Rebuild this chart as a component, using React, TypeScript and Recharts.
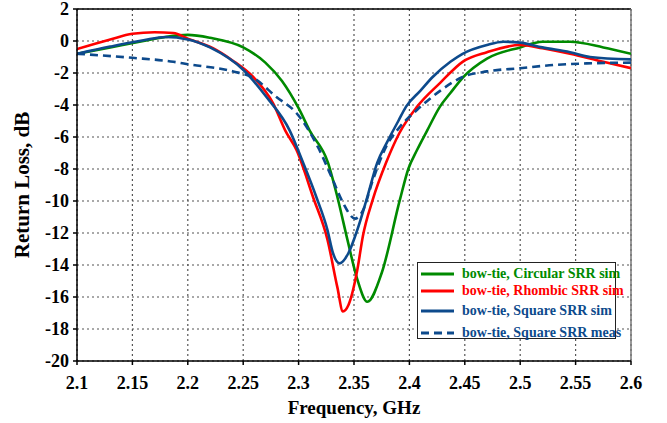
import {
  LineChart,
  Line,
  XAxis,
  YAxis,
  CartesianGrid,
  ReferenceLine,
} from "recharts";

// frequency ticks (GHz) and return loss ticks (dB)
const freqTicks = [2.1, 2.15, 2.2, 2.25, 2.3, 2.35, 2.4, 2.45, 2.5, 2.55, 2.6];
const lossTicks = [2, 0, -2, -4, -6, -8, -10, -12, -14, -16, -18, -20];

const circularFreq = [2.1, 2.13, 2.16, 2.18, 2.2, 2.22, 2.25, 2.27, 2.285, 2.3, 2.31, 2.3265, 2.335, 2.344, 2.353, 2.362, 2.375, 2.3915, 2.399, 2.407, 2.416, 2.4276, 2.437, 2.448, 2.47, 2.5, 2.52, 2.545, 2.575, 2.6];
const circularLoss = [-0.8, -0.4, 0.0, 0.25, 0.38, 0.2, -0.4, -1.35, -2.5, -4.2, -5.6, -7.6, -9.75, -12.4, -14.9, -16.3, -14.5, -9.9, -8.0, -6.8, -5.6, -4.1, -3.25, -2.3, -1.1, -0.4, -0.05, -0.05, -0.4, -0.8];

const rhombicFreq = [2.1, 2.13, 2.15, 2.17, 2.187, 2.2, 2.2227, 2.24, 2.259, 2.277, 2.288, 2.298, 2.313, 2.326, 2.335, 2.34, 2.345, 2.353, 2.358, 2.367, 2.379, 2.391, 2.407, 2.428, 2.448, 2.47, 2.5, 2.52, 2.545, 2.575, 2.6];
const rhombicLoss = [-0.5, 0.1, 0.45, 0.55, 0.5, 0.15, -0.45, -1.2, -2.25, -3.9, -5.6, -6.8, -9.75, -12.4, -15.4, -16.9, -16.5, -14.3, -12.2, -9.9, -7.6, -5.75, -4.1, -2.6, -1.3, -0.7, -0.25, -0.45, -0.8, -1.3, -1.7];

const squareFreq = [2.1, 2.13, 2.16, 2.18, 2.2, 2.22, 2.25, 2.271, 2.292, 2.304, 2.316, 2.326, 2.331, 2.337, 2.345, 2.353, 2.362, 2.371, 2.38, 2.39, 2.397, 2.41, 2.421, 2.437, 2.448, 2.47, 2.485, 2.5, 2.52, 2.545, 2.563, 2.6];
const squareLoss = [-0.8, -0.35, 0.05, 0.25, 0.1, -0.4, -1.8, -3.5, -5.6, -7.6, -9.75, -11.8, -13.25, -13.9, -13.25, -11.8, -9.75, -7.6, -6.3, -5.0, -4.1, -3.1, -2.25, -1.3, -0.8, -0.25, -0.05, -0.1, -0.4, -0.7, -1.0, -1.15];

const measFreq = [2.1, 2.15, 2.187, 2.2, 2.241, 2.259, 2.28, 2.298, 2.318, 2.331, 2.34, 2.351, 2.358, 2.367, 2.379, 2.391, 2.407, 2.428, 2.448, 2.47, 2.5, 2.53, 2.56, 2.6];
const measLoss = [-0.8, -1.05, -1.3, -1.45, -1.9, -2.3, -3.5, -4.5, -6.7, -8.7, -10.1, -11.1, -10.6, -8.7, -6.6, -5.4, -4.3, -3.1, -2.25, -1.9, -1.7, -1.5, -1.4, -1.35];

const seriesNames = [
  "bow-tie, Circular SRR sim",
  "bow-tie, Rhombic SRR sim",
  "bow-tie, Square SRR sim",
  "bow-tie, Square SRR meas",
];

const GREEN = "#008a00";
const RED = "#ff0000";
const BLUE = "#0d4a8c";

const toPoints = (fs: number[], vs: number[]) =>
  fs.map((f, i) => ({ f, v: vs[i] }));

const series = [
  { name: seriesNames[0], data: toPoints(circularFreq, circularLoss), color: GREEN, dash: undefined },
  { name: seriesNames[1], data: toPoints(rhombicFreq, rhombicLoss), color: RED, dash: undefined },
  { name: seriesNames[2], data: toPoints(squareFreq, squareLoss), color: BLUE, dash: undefined },
  { name: seriesNames[3], data: toPoints(measFreq, measLoss), color: BLUE, dash: "8 5" },
];

const font = "'Liberation Serif', 'Times New Roman', serif";

function XTick({ x, y, payload }: any) {
  return (
    <text
      x={x}
      y={y + 22}
      textAnchor="middle"
      fontSize={18}
      fontWeight={700}
      fontFamily={font}
      fill="#000"
    >
      {String(Number(payload.value.toFixed(2)))}
    </text>
  );
}

function YTick({ x, y, payload }: any) {
  return (
    <text
      x={x - 2}
      y={y + 6}
      textAnchor="end"
      fontSize={18}
      fontWeight={700}
      fontFamily={font}
      fill="#000"
    >
      {payload.value}
    </text>
  );
}

function LegendBox() {
  return (
    <div
      style={{
        position: "absolute",
        left: 417,
        top: 262,
        width: 199,
        height: 77,
        border: "1.5px solid #222",
        background: "#fff",
        fontFamily: font,
        fontWeight: 700,
        fontSize: 14,
        boxSizing: "border-box",
      }}
    >
      {series.map((s, i) => (
        <div
          key={s.name}
          style={{
            position: "absolute",
            left: 2,
            top: [3, 20, 40, 62][i],
            height: 16,
            display: "flex",
            alignItems: "center",
            whiteSpace: "nowrap",
          }}
        >
          <svg width={36} height={6} style={{ marginRight: 6 }}>
            <line
              x1={1}
              y1={3}
              x2={34}
              y2={3}
              stroke={s.color}
              strokeWidth={3}
              strokeDasharray={s.dash}
            />
          </svg>
          <span style={{ color: s.color }}>{s.name}</span>
        </div>
      ))}
    </div>
  );
}

export default function App() {
  return (
    <div style={{ position: "absolute", left: 0, top: 0, width: 667, height: 423, background: "#fff" }}>
      <LineChart
        width={667}
        height={423}
        margin={{ top: 9, right: 36, bottom: 0, left: 0 }}
      >
        <CartesianGrid stroke="#555" strokeDasharray="2 3" strokeWidth={1.2} />
        <XAxis
          type="number"
          dataKey="f"
          domain={[2.1, 2.6]}
          ticks={freqTicks}
          interval={0}
          allowDataOverflow
          height={62}
          tick={<XTick />}
          tickSize={4}
          stroke="#000"
          strokeWidth={1.5}
          label={{
            value: "Frequency, GHz",
            position: "insideBottom",
            offset: 9,
            style: { fontSize: 19, fontWeight: 700, fill: "#000", fontFamily: font },
          }}
        />
        <YAxis
          type="number"
          dataKey="v"
          domain={[-20, 2]}
          ticks={lossTicks}
          interval={0}
          allowDataOverflow
          width={77}
          tick={<YTick />}
          tickSize={4}
          stroke="#000"
          strokeWidth={1.5}
          label={{
            value: "Return Loss, dB",
            angle: -90,
            position: "insideLeft",
            offset: 22,
            style: { fontSize: 21, fontWeight: 700, fill: "#000", fontFamily: font, textAnchor: "middle" },
          }}
        />
        <ReferenceLine y={2} stroke="#000" strokeWidth={1.5} />
        <ReferenceLine x={2.6} stroke="#777" strokeWidth={1.5} />
        {series.map((s) => (
          <Line
            key={s.name}
            data={s.data}
            dataKey="v"
            name={s.name}
            type="monotone"
            stroke={s.color}
            strokeWidth={2.6}
            strokeDasharray={s.dash}
            dot={false}
            isAnimationActive={false}
          />
        ))}
      </LineChart>
      <LegendBox />
    </div>
  );
}
